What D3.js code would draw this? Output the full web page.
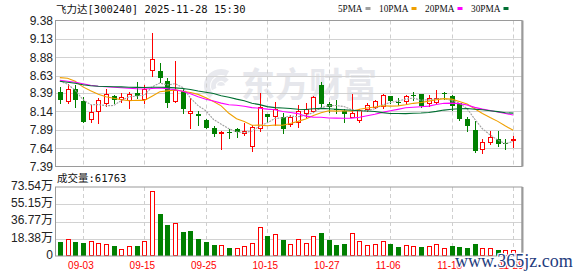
<!DOCTYPE html>
<html>
<head>
<meta charset="utf-8">
<script src="https://cdn.jsdelivr.net/npm/d3@7"></script>
<style>
  body { margin: 0; background: #fff; }
  svg { display: block; }
</style>
</head>
<body>
<div id="chart"></div>
<script>
// trading days shown (MM-DD)
const dates = [
  "08-29","09-01","09-02","09-03","09-04","09-05","09-08","09-09","09-10","09-11",
  "09-12","09-15","09-16","09-17","09-18","09-19","09-22","09-23","09-24","09-25",
  "09-26","09-29","09-30","10-09","10-10","10-13","10-14","10-15","10-16","10-17",
  "10-20","10-21","10-22","10-23","10-24","10-27","10-28","10-29","10-30","10-31",
  "11-03","11-04","11-05","11-06","11-07","11-10","11-11","11-12","11-13","11-14",
  "11-17","11-18","11-19","11-20","11-21","11-24","11-25","11-26","11-27","11-28"
];
const opens = [
  8.41, 8.28, 8.44, 8.28, 8.04, 8.14, 8.25, 8.35, 8.31, 8.30,
  8.39, 8.31, 8.70, 8.69, 8.55, 8.285, 8.42, 8.115, 8.10, 8.02,
  7.91, 7.85, 7.86, 7.90, 7.845, 7.67, 7.92, 8.10, 8.08, 8.06,
  7.965, 8.00, 8.115, 8.15, 8.50, 8.24, 8.17, 8.15, 8.07, 8.02,
  8.17, 8.20, 8.21, 8.35, 8.275, 8.28, 8.37, 8.375, 8.25, 8.265,
  8.39, 8.35, 8.25, 8.035, 7.885, 7.625, 7.73, 7.77, 7.715, 7.755
];
const highs = [
  8.47, 8.51, 8.50, 8.34, 8.23, 8.32, 8.44, 8.36, 8.39, 8.40,
  8.54, 8.50, 9.21, 8.80, 8.59, 8.83, 8.46, 8.32, 8.14, 8.035,
  7.94, 7.87, 7.90, 7.92, 7.98, 7.95, 8.39, 8.11, 8.27, 8.12,
  8.09, 8.23, 8.25, 8.35, 8.54, 8.27, 8.29, 8.18, 8.38, 8.18,
  8.25, 8.29, 8.38, 8.35, 8.32, 8.36, 8.41, 8.38, 8.36, 8.43,
  8.41, 8.36, 8.26, 8.07, 8.01, 7.77, 7.88, 7.87, 7.76, 7.80
];
const lows = [
  8.25, 8.26, 8.20, 7.99, 7.99, 7.98, 8.21, 8.25, 8.27, 8.19,
  8.32, 8.25, 8.63, 8.54, 8.20, 8.27, 8.12, 7.92, 7.96, 7.91,
  7.80, 7.625, 7.78, 7.79, 7.82, 7.595, 7.88, 7.99, 7.955, 7.84,
  7.94, 7.93, 8.07, 8.135, 8.20, 8.13, 8.12, 8.00, 8.06, 8.00,
  8.15, 8.19, 8.19, 8.25, 8.225, 8.24, 8.30, 8.20, 8.22, 8.26,
  8.315, 8.16, 8.02, 7.88, 7.59, 7.58, 7.70, 7.67, 7.63, 7.66
];
const closes = [
  8.29, 8.45, 8.29, 8.00, 8.13, 8.30, 8.375, 8.30, 8.34, 8.385,
  8.35, 8.44, 8.86, 8.60, 8.26, 8.43, 8.18, 8.145, 8.08, 7.92,
  7.83, 7.86, 7.84, 7.86, 7.875, 7.93, 8.20, 8.06, 8.17, 7.90,
  8.06, 8.15, 8.17, 8.34, 8.24, 8.20, 8.155, 8.10, 8.125, 8.16,
  8.225, 8.28, 8.36, 8.285, 8.265, 8.35, 8.355, 8.21, 8.325, 8.33,
  8.375, 8.21, 8.04, 7.945, 7.605, 7.72, 7.79, 7.69, 7.70, 7.765
];
const prevClose = 8.49; // close of the day before the first candle
// volume, in 万
const volumes = [
  15.2, 18.1, 15.2, 14.2, 16.0, 13.9, 12.8, 11.0, 7.5, 10.7,
  10.7, 16.0, 69.3, 44.8, 33.0, 34.8, 25.9, 27.0, 18.1, 15.2,
  11.7, 11.7, 8.9, 8.9, 10.7, 13.5, 30.9, 21.6, 23.4, 17.0,
  12.5, 18.1, 13.5, 21.3, 24.8, 17.1, 11.7, 12.8, 24.2, 16.0,
  11.7, 12.8, 16.0, 12.8, 9.9, 11.7, 10.7, 9.9, 10.7, 12.8,
  8.8, 11.0, 9.9, 8.8, 12.8, 8.8, 8.2, 6.4, 6.4, 6.1763
];
const ma5 = [
  8.556, 8.511, 8.43, 8.304, 8.232, 8.234, 8.219, 8.221, 8.289, 8.34,
  8.35, 8.363, 8.475, 8.527, 8.502, 8.518, 8.466, 8.323, 8.219, 8.151,
  8.031, 7.967, 7.906, 7.862, 7.853, 7.873, 7.941, 7.985, 8.047, 8.052,
  8.078, 8.068, 8.09, 8.124, 8.192, 8.22, 8.221, 8.207, 8.164, 8.148,
  8.153, 8.178, 8.23, 8.262, 8.283, 8.308, 8.323, 8.293, 8.301, 8.312,
  8.317, 8.288, 8.254, 8.179, 8.035, 7.904, 7.82, 7.75, 7.701, 7.733
];
const ma10 = [
  8.602, 8.593, 8.552, 8.475, 8.423, 8.375, 8.341, 8.321, 8.30, 8.286,
  8.292, 8.291, 8.348, 8.408, 8.421, 8.434, 8.415, 8.399, 8.373, 8.327,
  8.275, 8.217, 8.115, 8.041, 8.002, 7.952, 7.954, 7.946, 7.955, 7.953,
  7.976, 8.005, 8.038, 8.086, 8.122, 8.149, 8.145, 8.149, 8.144, 8.17,
  8.187, 8.20, 8.219, 8.213, 8.216, 8.231, 8.251, 8.262, 8.281, 8.30,
  8.315, 8.308, 8.276, 8.242, 8.176, 8.113, 8.057, 8.005, 7.941, 7.884
];
const ma20 = [
  8.565, 8.552, 8.538, 8.518, 8.498, 8.484, 8.477, 8.47, 8.464, 8.457,
  8.45, 8.446, 8.453, 8.461, 8.45, 8.437, 8.416, 8.382, 8.341, 8.306,
  8.283, 8.254, 8.231, 8.224, 8.212, 8.193, 8.184, 8.172, 8.164, 8.14,
  8.125, 8.111, 8.076, 8.063, 8.062, 8.051, 8.049, 8.047, 8.049, 8.061,
  8.081, 8.102, 8.128, 8.149, 8.169, 8.19, 8.198, 8.205, 8.213, 8.235,
  8.251, 8.254, 8.247, 8.228, 8.196, 8.172, 8.154, 8.133, 8.112, 8.092
];
const ma30 = [
  8.552, 8.538, 8.525, 8.504, 8.491, 8.484, 8.48, 8.477, 8.475, 8.47,
  8.468, 8.466, 8.47, 8.47, 8.468, 8.462, 8.453, 8.44, 8.42, 8.403,
  8.385, 8.355, 8.335, 8.308, 8.285, 8.253, 8.233, 8.206, 8.192, 8.188,
  8.181, 8.171, 8.167, 8.178, 8.182, 8.178, 8.171, 8.164, 8.157, 8.15,
  8.146, 8.14, 8.124, 8.113, 8.113, 8.111, 8.116, 8.119, 8.127, 8.141,
  8.159, 8.171, 8.177, 8.18, 8.171, 8.164, 8.15, 8.138, 8.123, 8.118
];

const priceTicks = [7.39, 7.64, 7.89, 8.14, 8.39, 8.63, 8.88, 9.13, 9.38];
const volTicks = [0, 18.385, 36.77, 55.155, 73.54];
const volLabels = ["0", "18.38万", "36.77万", "55.15万", "73.54万"];
const dateTicks = ["09-03", "09-15", "09-25", "10-15", "10-27", "11-06", "11-18", "11-28"];
const maNames = ["5PMA", "10PMA", "20PMA", "30PMA"];
const maColors = ["#a0a0a0", "#f0a000", "#ff00ff", "#006f32"];

const W = 578, H = 276;
const left = 56, right = 522;
const priceTop = 20.5, priceBottom = 166.5;
const volTop = 187, volBottom = 256;
const UP = "#ff0000", DOWN = "#008000";
const monoFont = "'DejaVu Sans Mono', 'Noto Sans CJK SC', monospace";
const sansFont = "'Liberation Sans', Arial, 'Noto Sans CJK SC', sans-serif";

const svg = d3.select("#chart").append("svg")
  .attr("width", W).attr("height", H);

const x = d3.scaleBand().domain(dates).range([left, 517]);
const y = d3.scaleLinear().domain([7.39, 9.38]).range([priceBottom, priceTop]);
const yv = d3.scaleLinear().domain([0, 73.54]).range([volBottom, volTop]);
const center = d => Math.round(x(d) + x.bandwidth() / 2);

// watermark: logo strokes + name
const logo = svg.append("g")
  .attr("transform", "translate(221,86)")
  .attr("fill", "#e8e9ee");
[[11, 17, -2.4, 0.5], [5, 10, -2.0, 0.9], [0, 4, -1.4, 1.4]].forEach(([r0, r1, a0, a1]) => {
  logo.append("path")
    .attr("d", d3.arc().innerRadius(r0).outerRadius(r1).startAngle(a0).endAngle(a1)());
});
svg.append("text")
  .attr("x", 241).attr("y", 97)
  .attr("font-family", "'Noto Sans CJK SC', sans-serif")
  .attr("font-weight", 700)
  .attr("font-size", 34)
  .attr("fill", "#e6e7ec")
  .text("东方财富");

// grids
function hGrid(ticks, scale) {
  svg.append("g").selectAll("line")
    .data(ticks.slice(1, -1))
    .join("line")
    .attr("x1", left).attr("x2", right)
    .attr("y1", d => Math.round(scale(d)) + 0.5)
    .attr("y2", d => Math.round(scale(d)) + 0.5)
    .attr("stroke", "#d2d2d2");
}
hGrid(priceTicks, y);
hGrid(volTicks, yv);

[[priceTop, priceBottom], [volTop, volBottom]].forEach(([t, b]) => {
  svg.append("g").selectAll("line")
    .data(dateTicks)
    .join("line")
    .attr("x1", d => center(d) + 0.5).attr("x2", d => center(d) + 0.5)
    .attr("y1", t).attr("y2", b)
    .attr("stroke", "#cfcfcf")
    .attr("stroke-dasharray", "4,3");
});

// candles
const candles = svg.append("g");
dates.forEach((d, i) => {
  const c = center(d);
  const up = closes[i] >= opens[i];
  const col = up ? UP : DOWN;
  candles.append("line")
    .attr("x1", c + 0.5).attr("x2", c + 0.5)
    .attr("y1", Math.round(y(highs[i]))).attr("y2", Math.round(y(lows[i])) + 1)
    .attr("stroke", col);
  const top = Math.round(y(Math.max(opens[i], closes[i])));
  const bot = Math.round(y(Math.min(opens[i], closes[i])));
  if (up) {
    candles.append("rect")
      .attr("x", c - 1.5).attr("y", top + 0.5)
      .attr("width", 4).attr("height", Math.max(1, bot - top))
      .attr("fill", "#fff").attr("stroke", col);
  } else {
    candles.append("rect")
      .attr("x", c - 2).attr("y", top)
      .attr("width", 5).attr("height", Math.max(1, bot - top))
      .attr("fill", col);
  }
});

// moving averages
const line = d3.line().x((v, i) => x(dates[i]) + x.bandwidth() / 2).y(v => y(v));
[ma5, ma10, ma20, ma30].forEach((s, k) => {
  svg.append("path")
    .datum(s)
    .attr("d", line)
    .attr("fill", "none")
    .attr("stroke", maColors[k])
    .attr("stroke-width", 1.1)
    .attr("stroke-dasharray", k === 0 ? "2,1" : null);
});

// volume bars, coloured by close against previous close
const bars = svg.append("g");
dates.forEach((d, i) => {
  const c = center(d);
  const prev = i === 0 ? prevClose : closes[i - 1];
  const up = closes[i] >= prev;
  const top = Math.round(yv(volumes[i]));
  if (up) {
    bars.append("rect")
      .attr("x", c - 1.5).attr("y", top + 0.5)
      .attr("width", 4).attr("height", volBottom - top - 1)
      .attr("fill", "#fff").attr("stroke", UP);
  } else {
    bars.append("rect")
      .attr("x", c - 2).attr("y", top)
      .attr("width", 5).attr("height", volBottom - top)
      .attr("fill", DOWN);
  }
});

// frames
[[priceTop, priceBottom], [volTop, volBottom]].forEach(([t, b]) => {
  svg.append("rect")
    .attr("x", left - 0.5).attr("y", t)
    .attr("width", right - left + 0.5).attr("height", b - t)
    .attr("fill", "none").attr("stroke", "#9a9a9a");
  svg.append("line")
    .attr("x1", right + 0.5).attr("x2", right + 0.5)
    .attr("y1", t).attr("y2", b)
    .attr("stroke", "#9a9a9a").attr("stroke-width", 2);
});

// axes
function styleAxis(g, color, size) {
  g.select(".domain").remove();
  g.selectAll("text")
    .attr("fill", color)
    .attr("font-family", sansFont)
    .attr("font-size", size);
}
svg.append("g")
  .attr("transform", `translate(${left},0)`)
  .call(d3.axisLeft(y).tickValues(priceTicks).tickFormat(d3.format(".2f")).tickSize(0).tickPadding(3))
  .call(g => styleAxis(g, "#222", 12));
svg.append("g")
  .attr("transform", `translate(${left},-1.5)`)
  .call(d3.axisLeft(yv).tickValues(volTicks).tickFormat((d, i) => volLabels[i]).tickSize(0).tickPadding(3))
  .call(g => styleAxis(g, "#222", 12));
svg.append("g")
  .attr("transform", `translate(-2,${volBottom})`)
  .call(d3.axisBottom(x).tickValues(dateTicks).tickSize(0).tickPadding(6))
  .call(g => styleAxis(g, "#ff0000", 10));

// header texts
svg.append("text")
  .attr("x", 56).attr("y", 12.5)
  .attr("font-family", monoFont).attr("font-size", 10.5).attr("fill", "#111")
  .text("飞力达[300240] 2025-11-28 15:30");

svg.append("text")
  .attr("x", 57).attr("y", 181.5)
  .attr("font-family", monoFont).attr("font-size", 10.5).attr("fill", "#111")
  .text("成交量:" + Math.round(volumes[volumes.length - 1] * 10000));

// legend
const legend = svg.append("g");
let cursor = 338;
maNames.forEach((name, k) => {
  const w = name.length === 4 ? 24.5 : 29.5;
  legend.append("text")
    .attr("x", cursor).attr("y", 12.3)
    .attr("font-family", "'Liberation Serif', 'DejaVu Serif', serif")
    .attr("font-size", 11)
    .attr("textLength", w).attr("lengthAdjust", "spacingAndGlyphs")
    .attr("fill", "#111")
    .text(name);
  cursor += w + 3;
  legend.append("rect")
    .attr("x", cursor).attr("y", 7)
    .attr("width", 5).attr("height", 3)
    .attr("fill", maColors[k]);
  cursor += 5 + 8.5;
});

// site watermark (overlaps the last date labels, as in the source image)
svg.append("text")
  .attr("x", 455).attr("y", 267)
  .attr("font-family", "'Liberation Serif', serif")
  .attr("font-size", 18)
  .attr("fill", "#1f3d7e")
  .attr("stroke", "#ffffff").attr("stroke-width", 2.5)
  .attr("paint-order", "stroke")
  .text("www.365jz.com");
</script>
</body>
</html>
